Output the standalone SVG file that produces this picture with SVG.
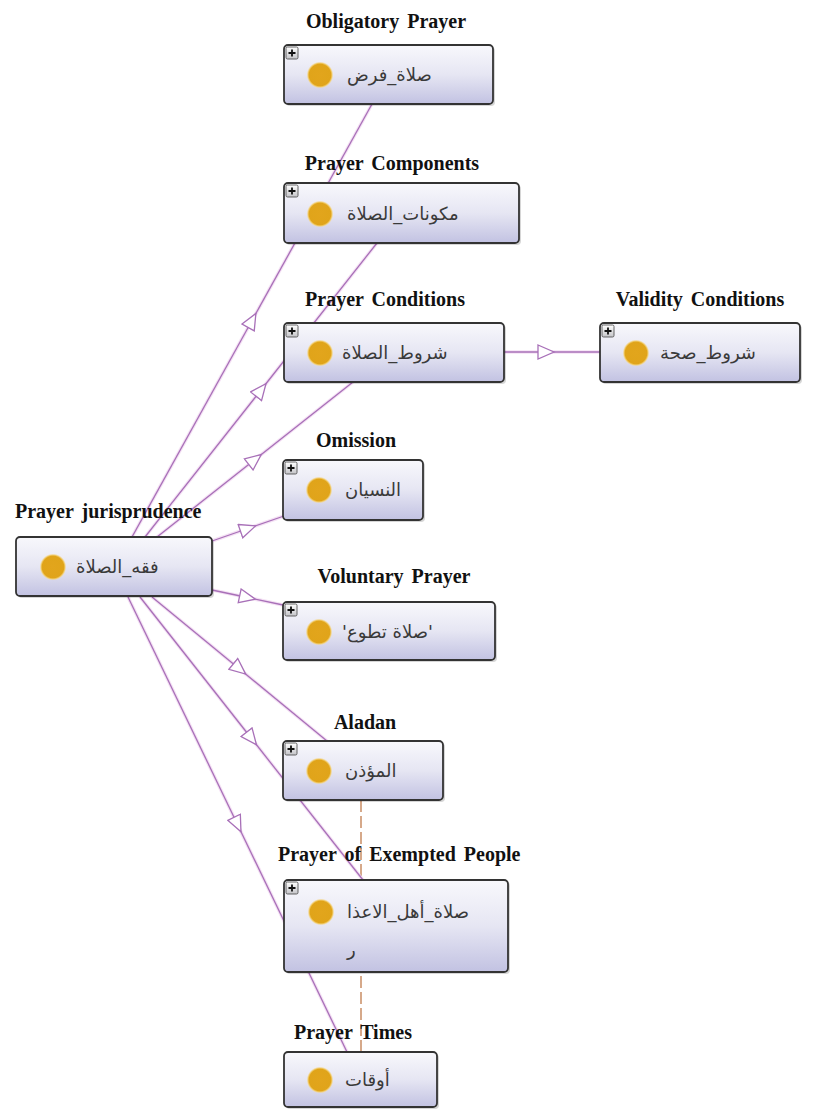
<svg xmlns="http://www.w3.org/2000/svg" width="817" height="1111" viewBox="0 0 817 1111">
<defs>
<linearGradient id="boxg" x1="0" y1="0" x2="0" y2="1">
<stop offset="0" stop-color="#f8f8fc"/>
<stop offset="0.5" stop-color="#e6e6f3"/>
<stop offset="1" stop-color="#c2c2e2"/>
</linearGradient>
<linearGradient id="plusg" x1="0" y1="0" x2="0" y2="1">
<stop offset="0" stop-color="#ffffff"/>
<stop offset="1" stop-color="#c4c4c8"/>
</linearGradient>
<radialGradient id="dotg" cx="0.5" cy="0.5" r="0.5">
<stop offset="0" stop-color="#e2a51c"/>
<stop offset="0.8" stop-color="#e0a41a"/>
<stop offset="0.88" stop-color="#efc865"/>
<stop offset="1" stop-color="#f7e3b0" stop-opacity="0"/>
</radialGradient>
<marker id="tri" viewBox="-1 -8 19 16" refX="8" refY="0" markerWidth="19" markerHeight="16" markerUnits="userSpaceOnUse" orient="auto">
<path d="M0,-7 L16,0 L0,7 Z" fill="#ffffff" stroke="#a870b8" stroke-width="1.3"/>
</marker>
</defs>
<style>
.lbl{font-family:"Liberation Serif","Times New Roman",serif;font-weight:bold;font-size:20px;fill:#111;word-spacing:3px}
.ar{font-family:"DejaVu Sans","Noto Sans",sans-serif;font-size:18px;fill:#3a3a3a}
.box{fill:url(#boxg);stroke:#333;stroke-width:1.8}
.shd{fill:#000;opacity:0.16}
.plus{fill:url(#plusg);stroke:#555;stroke-width:0.9}
.pl{stroke:#111;stroke-width:1.8}
.dot{fill:url(#dotg)}
.halo{fill:none;stroke:#f0d4f0;stroke-width:3.5;opacity:0.7}
.edge{fill:none;stroke:#a870b8;stroke-width:1.3;marker-mid:url(#tri)}
.dash{fill:none;stroke:#d2a07e;stroke-width:1.8;stroke-dasharray:12 4}
</style>
<rect width="817" height="1111" fill="#ffffff"/>

<g id="connectors">
<line class="dash" x1="361" y1="800" x2="361" y2="1052"/>
<path class="halo" d="M132,537 L372,104"/>
<path class="halo" d="M145,537 L377,243"/>
<path class="halo" d="M157,537 L353,382"/>
<path class="halo" d="M212,541 L284,516"/>
<path class="halo" d="M212,590 L283,605"/>
<path class="halo" d="M152,597 L327,741"/>
<path class="halo" d="M140,597 L363,880"/>
<path class="halo" d="M128,597 L347,1052"/>
<path class="halo" d="M504,352 L600,352"/>
<path class="edge" d="M132,537 L252,320.5 L372,104"/>
<path class="edge" d="M145,537 L261,390 L377,243"/>
<path class="edge" d="M157,537 L255,459.5 L353,382"/>
<path class="edge" d="M212,541 L248,528.5 L284,516"/>
<path class="edge" d="M212,590 L247.5,597.5 L283,605"/>
<path class="edge" d="M152,597 L239.5,669 L327,741"/>
<path class="edge" d="M140,597 L251.5,738.5 L363,880"/>
<path class="edge" d="M128,597 L237.5,824.5 L347,1052"/>
<path class="edge" d="M504,352 L546,352 L600,352"/>
</g>

<g id="node-obligatory">
<rect class="shd" x="286" y="47" width="209" height="59" rx="4"/>
<rect class="box" x="284" y="45" width="209" height="59" rx="4"/>
<rect class="plus" x="286" y="47" width="12" height="12" rx="1.5"/>
<path class="pl" d="M288.5,53 H295.5 M292,49.5 V56.5"/>
<circle class="dot" cx="320" cy="75" r="13.5"/>
<text class="ar" x="347" y="81">صلاة_فرض</text>
<text class="lbl" x="386" y="28" text-anchor="middle">Obligatory Prayer</text>
</g>

<g id="node-components">
<rect class="shd" x="286" y="185" width="235" height="60" rx="4"/>
<rect class="box" x="284" y="183" width="235" height="60" rx="4"/>
<rect class="plus" x="286" y="185" width="12" height="12" rx="1.5"/>
<path class="pl" d="M288.5,191 H295.5 M292,187.5 V194.5"/>
<circle class="dot" cx="320" cy="214" r="13.5"/>
<text class="ar" x="347" y="220">مكونات_الصلاة</text>
<text class="lbl" x="392" y="170" text-anchor="middle">Prayer Components</text>
</g>

<g id="node-conditions">
<rect class="shd" x="286" y="325" width="220" height="59" rx="4"/>
<rect class="box" x="284" y="323" width="220" height="59" rx="4"/>
<rect class="plus" x="286" y="325" width="12" height="12" rx="1.5"/>
<path class="pl" d="M288.5,331 H295.5 M292,327.5 V334.5"/>
<circle class="dot" cx="320" cy="353" r="13.5"/>
<text class="ar" x="342" y="359">شروط_الصلاة</text>
<text class="lbl" x="385" y="306" text-anchor="middle">Prayer Conditions</text>
</g>

<g id="node-validity">
<rect class="shd" x="602" y="325" width="200" height="59" rx="4"/>
<rect class="box" x="600" y="323" width="200" height="59" rx="4"/>
<rect class="plus" x="602" y="325" width="12" height="12" rx="1.5"/>
<path class="pl" d="M604.5,331 H611.5 M608,327.5 V334.5"/>
<circle class="dot" cx="636" cy="353" r="13.5"/>
<text class="ar" x="660" y="359">شروط_صحة</text>
<text class="lbl" x="700" y="306" text-anchor="middle">Validity Conditions</text>
</g>

<g id="node-omission">
<rect class="shd" x="285" y="462" width="140" height="60" rx="4"/>
<rect class="box" x="283" y="460" width="140" height="60" rx="4"/>
<rect class="plus" x="285" y="462" width="12" height="12" rx="1.5"/>
<path class="pl" d="M287.5,468 H294.5 M291,464.5 V471.5"/>
<circle class="dot" cx="319" cy="490" r="13.5"/>
<text class="ar" x="345" y="496">النسيان</text>
<text class="lbl" x="356" y="447" text-anchor="middle">Omission</text>
</g>

<g id="node-jurisprudence">
<rect class="shd" x="18" y="539" width="196" height="59" rx="4"/>
<rect class="box" x="16" y="537" width="196" height="59" rx="4"/>
<circle class="dot" cx="53" cy="567" r="13.5"/>
<text class="ar" x="76" y="573">فقه_الصلاة</text>
<text class="lbl" x="15" y="518">Prayer jurisprudence</text>
</g>

<g id="node-voluntary">
<rect class="shd" x="285" y="604" width="212" height="58" rx="4"/>
<rect class="box" x="283" y="602" width="212" height="58" rx="4"/>
<rect class="plus" x="285" y="604" width="12" height="12" rx="1.5"/>
<path class="pl" d="M287.5,610 H294.5 M291,606.5 V613.5"/>
<circle class="dot" cx="319" cy="632" r="13.5"/>
<text class="ar" x="342" y="638">'صلاة تطوع'</text>
<text class="lbl" x="394" y="583" text-anchor="middle">Voluntary Prayer</text>
</g>

<g id="node-aladan">
<rect class="shd" x="285" y="743" width="160" height="59" rx="4"/>
<rect class="box" x="283" y="741" width="160" height="59" rx="4"/>
<rect class="plus" x="285" y="743" width="12" height="12" rx="1.5"/>
<path class="pl" d="M287.5,749 H294.5 M291,745.5 V752.5"/>
<circle class="dot" cx="319" cy="771" r="13.5"/>
<text class="ar" x="345" y="777">المؤذن</text>
<text class="lbl" x="365" y="729" text-anchor="middle">Aladan</text>
</g>

<g id="node-exempted">
<rect class="shd" x="286" y="882" width="224" height="92" rx="4"/>
<rect class="box" x="284" y="880" width="224" height="92" rx="4"/>
<rect class="plus" x="286" y="882" width="12" height="12" rx="1.5"/>
<path class="pl" d="M288.5,888 H295.5 M292,884.5 V891.5"/>
<circle class="dot" cx="321" cy="912" r="13.5"/>
<text class="ar" x="347" y="918">صلاة_أهل_الاعذا</text>
<text class="ar" x="347" y="956">ر</text>
<text class="lbl" x="278" y="861">Prayer of Exempted People</text>
</g>

<g id="node-times">
<rect class="shd" x="286" y="1054" width="153" height="55" rx="4"/>
<rect class="box" x="284" y="1052" width="153" height="55" rx="4"/>
<circle class="dot" cx="320" cy="1080" r="13.5"/>
<text class="ar" x="345" y="1086">أوقات</text>
<text class="lbl" x="353" y="1039" text-anchor="middle">Prayer Times</text>
</g>
</svg>
